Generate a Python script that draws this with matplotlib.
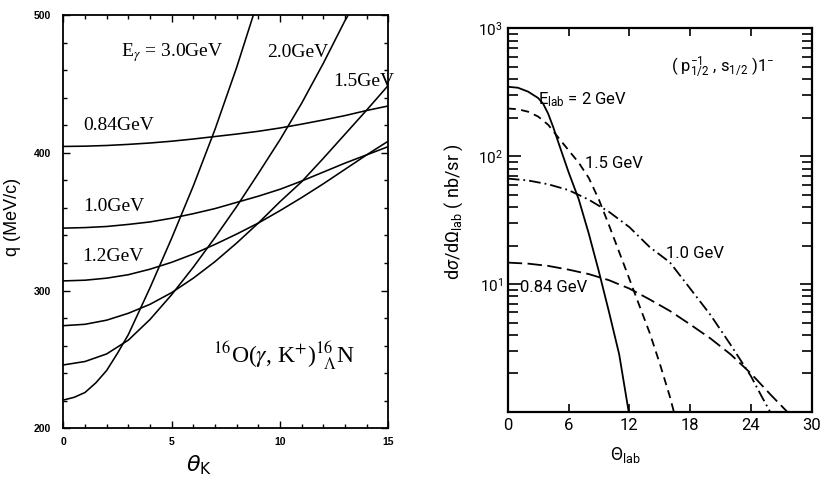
import matplotlib
matplotlib.use("Agg")
import matplotlib.pyplot as plt
from matplotlib.ticker import MultipleLocator, FixedLocator, FixedFormatter, LogLocator, NullFormatter

# ---------------- data: left panel (q vs theta_K) ----------------
theta_1deg = [0, 1, 2, 3, 4, 5, 6, 7, 8, 9, 10, 11, 12, 13, 14, 15]
q_084 = [404.6, 404.8, 405.3, 406.1, 407.1, 408.4, 410.0, 411.8, 413.6, 415.6,
         418.0, 420.8, 423.8, 427.0, 430.7, 434.0]
q_10 = [345.3, 345.7, 346.5, 348.0, 349.8, 352.5, 355.8, 359.5, 364.0, 368.5,
        373.5, 379.5, 386.0, 392.5, 398.5, 404.5]
q_12 = [307.0, 307.5, 309.0, 311.5, 315.5, 320.5, 326.5, 333.5, 341.0, 349.0,
        358.0, 367.5, 377.5, 388.0, 398.5, 408.5]
q_15 = [274.5, 275.5, 278.5, 283.5, 290.0, 298.5, 309.0, 321.0, 334.5, 349.0,
        364.5, 379.0, 396.0, 413.5, 431.0, 449.0]
theta_20 = [0, 1, 2, 3, 4, 5, 6, 7, 8, 9, 10, 11, 12, 13, 13.15]
q_20 = [246.0, 248.5, 254.0, 264.0, 279.0, 297.0, 317.0, 338.5, 361.0, 385.0,
        409.5, 436.0, 465.0, 496.0, 500.0]
theta_30 = [0, 0.5, 1, 1.5, 2, 2.5, 3, 4, 5, 6, 7, 8, 8.77]
q_30 = [220.5, 222.5, 226.0, 233.0, 242.0, 254.5, 268.0, 302.0, 338.0, 376.0,
        417.0, 462.0, 500.0]

# ---------------- data: right panel (cross sections) ----------------
th_2 = [0, 1, 2, 2.5, 3, 3.5, 4, 4.5, 5, 6, 7, 8, 9, 10, 11, 11.94]
xs_2 = [349, 343, 320, 302, 285, 257, 214, 168, 128, 75.2, 46.2, 24.8, 12.5,
        6.03, 2.82, 1.0]
th_15 = [0, 1, 2, 3, 4, 5, 6, 7, 8, 9, 10, 11, 12, 13, 14, 15, 16, 16.4]
xs_15 = [236, 232.8, 222.8, 204.2, 175.8, 139.6, 111.4, 89.1, 67.6, 45.7, 28.8,
         17.8, 11.0, 6.76, 4.17, 2.40, 1.32, 1.0]
th_10 = [0, 2, 4, 6, 8, 10, 12, 14, 16, 18, 20, 22, 24, 25, 25.9]
xs_10 = [66.8, 64.6, 60.3, 54.3, 45.7, 36.7, 27.9, 19.5, 14.8, 9.23, 5.75, 3.35,
         1.905, 1.35, 1.0]
th_084 = [0, 2, 4, 6, 8, 10, 12, 14, 16, 18, 20, 22, 24, 26, 27.6]
xs_084 = [14.72, 14.45, 13.87, 12.97, 11.97, 10.72, 9.23, 7.59, 6.17, 4.84, 3.76,
          2.82, 2.0, 1.35, 1.0]

left_xticks = [0, 5, 10, 15]
left_yticks = [200, 300, 400, 500]
right_xticks = [0, 6, 12, 18, 24, 30]
right_yticks = [10, 100, 1000]
right_ytick_labels = [r"$10^{1}$", r"$10^{2}$", r"$10^{3}$"]

plt.rcParams['mathtext.fontset'] = 'custom'
plt.rcParams['mathtext.rm'] = 'Roboto'
plt.rcParams['mathtext.it'] = 'Roboto:italic'
plt.rcParams['mathtext.bf'] = 'Roboto:bold'

fig = plt.figure(figsize=(8.3, 4.86), dpi=100)
axL = fig.add_axes([0.0763, 0.1187, 0.3916, 0.8504])
axR = fig.add_axes([0.6117, 0.1523, 0.3663, 0.7895])

# ---------------- left panel ----------------
lw = 1.15
for th, q in [(theta_1deg, q_084), (theta_1deg, q_10), (theta_1deg, q_12),
              (theta_1deg, q_15), (theta_20, q_20), (theta_30, q_30)]:
    axL.plot(th, q, color='black', lw=lw, solid_joinstyle='round')
axL.set_xlim(0, 15)
axL.set_ylim(200, 500)
axL.xaxis.set_major_locator(FixedLocator(left_xticks))
axL.xaxis.set_minor_locator(MultipleLocator(1))
axL.yaxis.set_major_locator(FixedLocator(left_yticks))
axL.yaxis.set_minor_locator(MultipleLocator(20))
axL.tick_params(which='both', direction='in', top=True, right=True, width=1.0)
axL.tick_params(which='major', length=5)
axL.tick_params(which='minor', length=3)
axL.tick_params(axis='y', which='major', pad=9)
axL.tick_params(axis='x', which='major', pad=6)
for lab in axL.get_xticklabels() + axL.get_yticklabels():
    lab.set_fontfamily('Liberation Sans')
    lab.set_fontweight('bold')
    lab.set_fontsize(7.5)
for sp in axL.spines.values():
    sp.set_linewidth(1.3)

serif = dict(family='Liberation Serif', math_fontfamily='stix', fontsize=14,
             va='center', ha='left')
axL.text(2.66, 472.5, r"E$_{\gamma}$ = 3.0GeV", **serif)
axL.text(9.4, 472.5, "2.0GeV", **serif)
axL.text(12.45, 451.5, "1.5GeV", **serif)
axL.text(0.91, 419.5, "0.84GeV", **serif)
axL.text(0.91, 360.7, "1.0GeV", **serif)
axL.text(0.86, 324.4, "1.2GeV", **serif)
axL.text(6.91, 253.3, r"$^{16}$O($\gamma$, K$^{+}$)$^{16}_{\ \ \Lambda}$N",
         family='Liberation Serif', math_fontfamily='stix', fontsize=17,
         va='center', ha='left')

fig.text(0.2398, 0.043, r"$\theta_{\rm K}$", math_fontfamily='dejavusans',
         fontsize=16, ha='center', va='center')
fig.text(0.0145, 0.5535, "q (MeV/c)", family='Liberation Sans', fontsize=13,
         rotation=90, ha='center', va='center')

# ---------------- right panel ----------------
lwr = 1.3
axR.plot(th_2, xs_2, color='black', lw=lwr, linestyle='-')
axR.plot(th_15, xs_15, color='black', lw=lwr, linestyle=(0, (4.5, 3.0)))
axR.plot(th_10, xs_10, color='black', lw=lwr, linestyle=(0, (6.5, 2.2, 1.0, 2.2)))
axR.plot(th_084, xs_084, color='black', lw=lwr, linestyle=(0, (8.0, 3.0)))
axR.set_yscale('log')
axR.set_xlim(0, 30)
axR.set_ylim(1, 1000)
axR.xaxis.set_major_locator(FixedLocator(right_xticks))
axR.yaxis.set_major_locator(FixedLocator(right_yticks))
axR.yaxis.set_major_formatter(FixedFormatter(right_ytick_labels))
axR.yaxis.set_minor_locator(LogLocator(base=10, subs=[2, 3, 4, 5, 6, 7, 8, 9]))
axR.yaxis.set_minor_formatter(NullFormatter())
axR.tick_params(which='both', direction='in', top=True, right=True, width=1.2)
axR.tick_params(axis='x', which='major', length=6, pad=4.5, labelsize=12)
axR.tick_params(axis='y', which='major', length=9, pad=3.5, labelsize=11)
axR.tick_params(axis='y', which='minor', length=7)
for lab in axR.get_xticklabels() + axR.get_yticklabels():
    lab.set_fontfamily('Roboto')
for sp in axR.spines.values():
    sp.set_linewidth(1.6)

rt = dict(family='Roboto', math_fontfamily='custom', fontsize=12, va='center', ha='left')
axR.text(16.07, 498, r"( p$^{-1}_{1/2}$ , s$_{1/2}$ )1$^{-}$", **rt)
axR.text(3.0, 276, r"E$_{\rm lab}$ = 2 GeV", **rt)
axR.text(7.65, 88, "1.5 GeV", **rt)
axR.text(15.6, 17.4, "1.0 GeV", **rt)
axR.text(1.2, 9.4, "0.84 GeV", **rt)

fig.text(0.7536, 0.0638, r"$\Theta_{\rm lab}$", family='Roboto',
         math_fontfamily='custom', fontsize=13, ha='center', va='center')
fig.text(0.547, 0.565, r"d$\sigma$/d$\Omega_{\rm lab}$ ( nb/sr )", family='Roboto',
         math_fontfamily='custom', fontsize=13, rotation=90, ha='center', va='center')

fig.savefig("out.png", dpi=100)
